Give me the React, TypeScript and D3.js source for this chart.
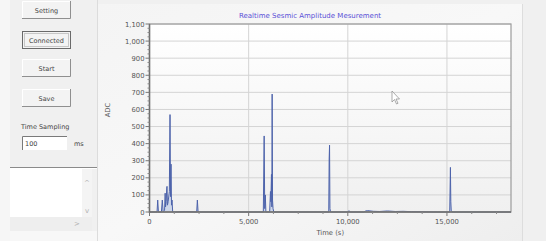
import React from 'react';
import * as d3 from 'd3';

// seismic amplitude samples
const timeS = [
  0, 300, 380, 414, 450,
  600, 646, 690,
  760, 790, 810, 840, 870, 884, 905,
  940, 1000, 1035, 1060, 1086, 1110, 1136, 1170,
  1300, 1800, 2380, 2414, 2450,
  3500, 5000, 5740, 5782, 5810,
  5840, 5870, 5900,
  6060, 6100, 6120, 6150, 6170, 6185, 6205, 6230, 6270,
  7500, 9000, 9040, 9060, 9080, 9100, 9130,
  9800, 10000, 10060, 10120, 10800, 10900, 11000, 11300, 11600, 12000, 12400, 12800, 13200,
  14500, 15140, 15175, 15195, 15215, 15260, 16500, 18230,
];
const adc = [
  0, 0, 0, 70, 0,
  0, 70, 0,
  10, 110, 30, 60, 140, 150, 40,
  60, 120, 570, 90, 280, 40, 70, 0,
  0, 3, 0, 70, 0,
  0, 0, 0, 445, 20,
  100, 0, 0,
  0, 120, 60, 220, 30, 690, 70, 20, 0,
  0, 0, 0, 310, 391, 20, 0,
  0, 0, 8, 0, 0, 6, 8, 4, 3, 6, 3, 4, 2,
  0, 0, 261, 60, 10, 0, 0, 0,
];

const yTicks = [0, 100, 200, 300, 400, 500, 600, 700, 800, 900, 1000, 1100];
const xTicks = [0, 5000, 10000, 15000];
const buttons = ['Setting', 'Connected', 'Start', 'Save'];

const W = 546;
const H = 241;
const plot = { left: 149.5, right: 511, top: 24, bottom: 212 };
const font = '"DejaVu Sans", "Liberation Sans", sans-serif';

function Button({ label, y, focused }: { label: string; y: number; focused?: boolean }) {
  const x = 22, w = 49, h = 18;
  return (
    <g>
      <rect x={x} y={y} width={w} height={h} fill="#f3f3f3" />
      {focused ? (
        <>
          <rect x={x + 0.5} y={y + 0.5} width={w - 1} height={h - 1} fill="none" stroke="#6a6a6a" />
          <rect x={x + 2.5} y={y + 2.5} width={w - 5} height={h - 5} fill="none" stroke="#9a9a9a" strokeDasharray="1,1" />
        </>
      ) : (
        <>
          <path d={`M${x + 0.5},${y + h}V${y + 0.5}H${x + w}`} fill="none" stroke="#ffffff" />
          <path d={`M${x},${y + h - 0.5}H${x + w - 0.5}V${y}`} fill="none" stroke="#8f8f8f" />
        </>
      )}
      <text x={x + w / 2} y={y + h / 2 + 2.5} textAnchor="middle" fontSize={6.5} fill="#444" fontFamily={font}>{label}</text>
    </g>
  );
}

export default function App() {
  const x = d3.scaleLinear().domain([0, 18230]).range([plot.left, plot.right]);
  const y = d3.scaleLinear().domain([0, 1100]).range([plot.bottom, plot.top]);
  const pts: [number, number][] = timeS.map((t, i) => [t, adc[i]]);

  const line = d3.line<[number, number]>().x(d => x(d[0])).y(d => y(d[1]));
  const area = d3.area<[number, number]>().x(d => x(d[0])).y0(y(0)).y1(d => y(d[1]));

  const xMinor = d3.range(0, 18230, 1250).filter(v => v % 5000 !== 0);
  const yMinor = d3.range(0, 1100, 25).filter(v => v % 100 !== 0);

  return (
    <div style={{ position: 'fixed', left: 0, top: 0 }}>
      <svg width={W} height={H} style={{ display: 'block' }}>
        <defs>
          <linearGradient id="plotBg" x1="0" y1="0" x2="0" y2="1">
            <stop offset="0" stopColor="#ffffff" />
            <stop offset="1" stopColor="#f0f0f0" />
          </linearGradient>
          <linearGradient id="panelBg" x1="0" y1="0" x2="1" y2="1">
            <stop offset="0" stopColor="#f4f4f4" />
            <stop offset="0.5" stopColor="#f8f8f8" />
            <stop offset="1" stopColor="#eeeeee" />
          </linearGradient>
        </defs>

        {/* window background */}
        <rect width={W} height={H} fill="#f0f0f0" />
        <rect x={0} y={0} width={10} height={H} fill="#f6f6f6" />

        {/* left control panel */}
        {buttons.map((b, i) => (
          <Button key={b} label={b} y={[1, 31, 59, 89][i]} focused={b === 'Connected'} />
        ))}
        <text x={21} y={129} fontSize={6.5} fill="#444" fontFamily={font}>Time Sampling</text>
        <rect x={22} y={136} width={45} height={14} fill="#ffffff" />
        <path d="M22.5,150V136.5H67" fill="none" stroke="#7a7a7a" />
        <text x={25} y={145.5} fontSize={6.5} fill="#444" fontFamily={font}>100</text>
        <text x={74} y={146} fontSize={6.5} fill="#444" fontFamily={font}>ms</text>
        <line x1={10} x2={97} y1={167.5} y2={167.5} stroke="#8a8a8a" />
        <line x1={10} x2={97} y1={168.5} y2={168.5} stroke="#ffffff" />
        <rect x={10} y={169} width={72} height={48} fill="#ffffff" />
        <rect x={82} y={169} width={10} height={48} fill="#f4f4f4" />
        <text x={87} y={185} textAnchor="middle" fontSize={7} fill="#b0b0b0" fontFamily={font}>^</text>
        <text x={87} y={213} textAnchor="middle" fontSize={7} fill="#b0b0b0" fontFamily={font}>v</text>
        <rect x={10} y={217} width={82} height={14} fill="#eeeeee" />
        <text x={77} y={226} textAnchor="middle" fontSize={7} fill="#b0b0b0" fontFamily={font}>&gt;</text>
        <rect x={10} y={231} width={87} height={10} fill="#f7f7f7" />
        <line x1={97.5} x2={97.5} y1={0} y2={H} stroke="#dcdcdc" />

        {/* chart panel */}
        <rect x={98} y={4} width={424} height={H - 4} fill="url(#panelBg)" />
        <line x1={522.5} x2={522.5} y1={4} y2={H} stroke="#dddddd" />

        <rect x={plot.left} y={plot.top} width={plot.right - plot.left} height={plot.bottom - plot.top} fill="url(#plotBg)" />

        {/* grid */}
        {yTicks.map(t => (
          <line key={'gy' + t} x1={plot.left} x2={plot.right} y1={y(t)} y2={y(t)} stroke="#d4d4d4" />
        ))}
        {xTicks.map(t => (
          <line key={'gx' + t} x1={x(t)} x2={x(t)} y1={plot.top} y2={plot.bottom} stroke="#d4d4d4" />
        ))}

        {/* series */}
        <path d={area(pts) || ''} fill="#b8c6e6" opacity={0.6} />
        <path d={line(pts) || ''} fill="none" stroke="#4d63ab" strokeWidth={1} strokeLinejoin="round" />

        {/* frame */}
        <rect x={plot.left} y={plot.top} width={plot.right - plot.left} height={plot.bottom - plot.top} fill="none" stroke="#9c9c9c" strokeWidth={1.2} />
        <line x1={plot.left} x2={plot.left} y1={plot.top} y2={plot.bottom + 1} stroke="#6e6e6e" strokeWidth={1.5} />
        <line x1={plot.left} x2={plot.right} y1={plot.bottom} y2={plot.bottom} stroke="#6e6e6e" strokeWidth={1.5} />

        {/* y axis */}
        {yMinor.map(t => (
          <line key={'ym' + t} x1={plot.left - 2} x2={plot.left} y1={y(t)} y2={y(t)} stroke="#8a8a8a" />
        ))}
        {yTicks.map(t => (
          <g key={'yt' + t}>
            <line x1={plot.left - 4} x2={plot.left} y1={y(t)} y2={y(t)} stroke="#777" />
            <text x={plot.left - 5} y={y(t) + 2.5} textAnchor="end" fontSize={6.8} fill="#555" fontFamily={font}>
              {d3.format(',')(t)}
            </text>
          </g>
        ))}
        <text transform={`translate(110,110) rotate(-90)`} textAnchor="middle" fontSize={6.8} fill="#555" fontFamily={font}>ADC</text>

        {/* x axis */}
        {xMinor.map(t => (
          <line key={'xm' + t} x1={x(t)} x2={x(t)} y1={plot.bottom} y2={plot.bottom + 2} stroke="#8a8a8a" />
        ))}
        {xTicks.map(t => (
          <g key={'xt' + t}>
            <line x1={x(t)} x2={x(t)} y1={plot.bottom} y2={plot.bottom + 4} stroke="#777" />
            <text x={x(t)} y={plot.bottom + 12} textAnchor="middle" fontSize={6.8} fill="#555" fontFamily={font}>
              {d3.format(',')(t)}
            </text>
          </g>
        ))}
        <text x={(plot.left + plot.right) / 2} y={235} textAnchor="middle" fontSize={6.8} fill="#555" fontFamily={font}>Time (s)</text>

        {/* title */}
        <text x={310} y={17.5} textAnchor="middle" fontSize={7} fill="#5a4fd6" fontFamily={font}>
          Realtime Sesmic Amplitude Mesurement
        </text>

        {/* mouse pointer */}
        <path d="M392,91 L392,102 L394.5,99.5 L396.5,104 L398,103.3 L396,99 L399.5,99 Z" fill="#ffffff" stroke="#888" strokeWidth={0.7} />
      </svg>
    </div>
  );
}
